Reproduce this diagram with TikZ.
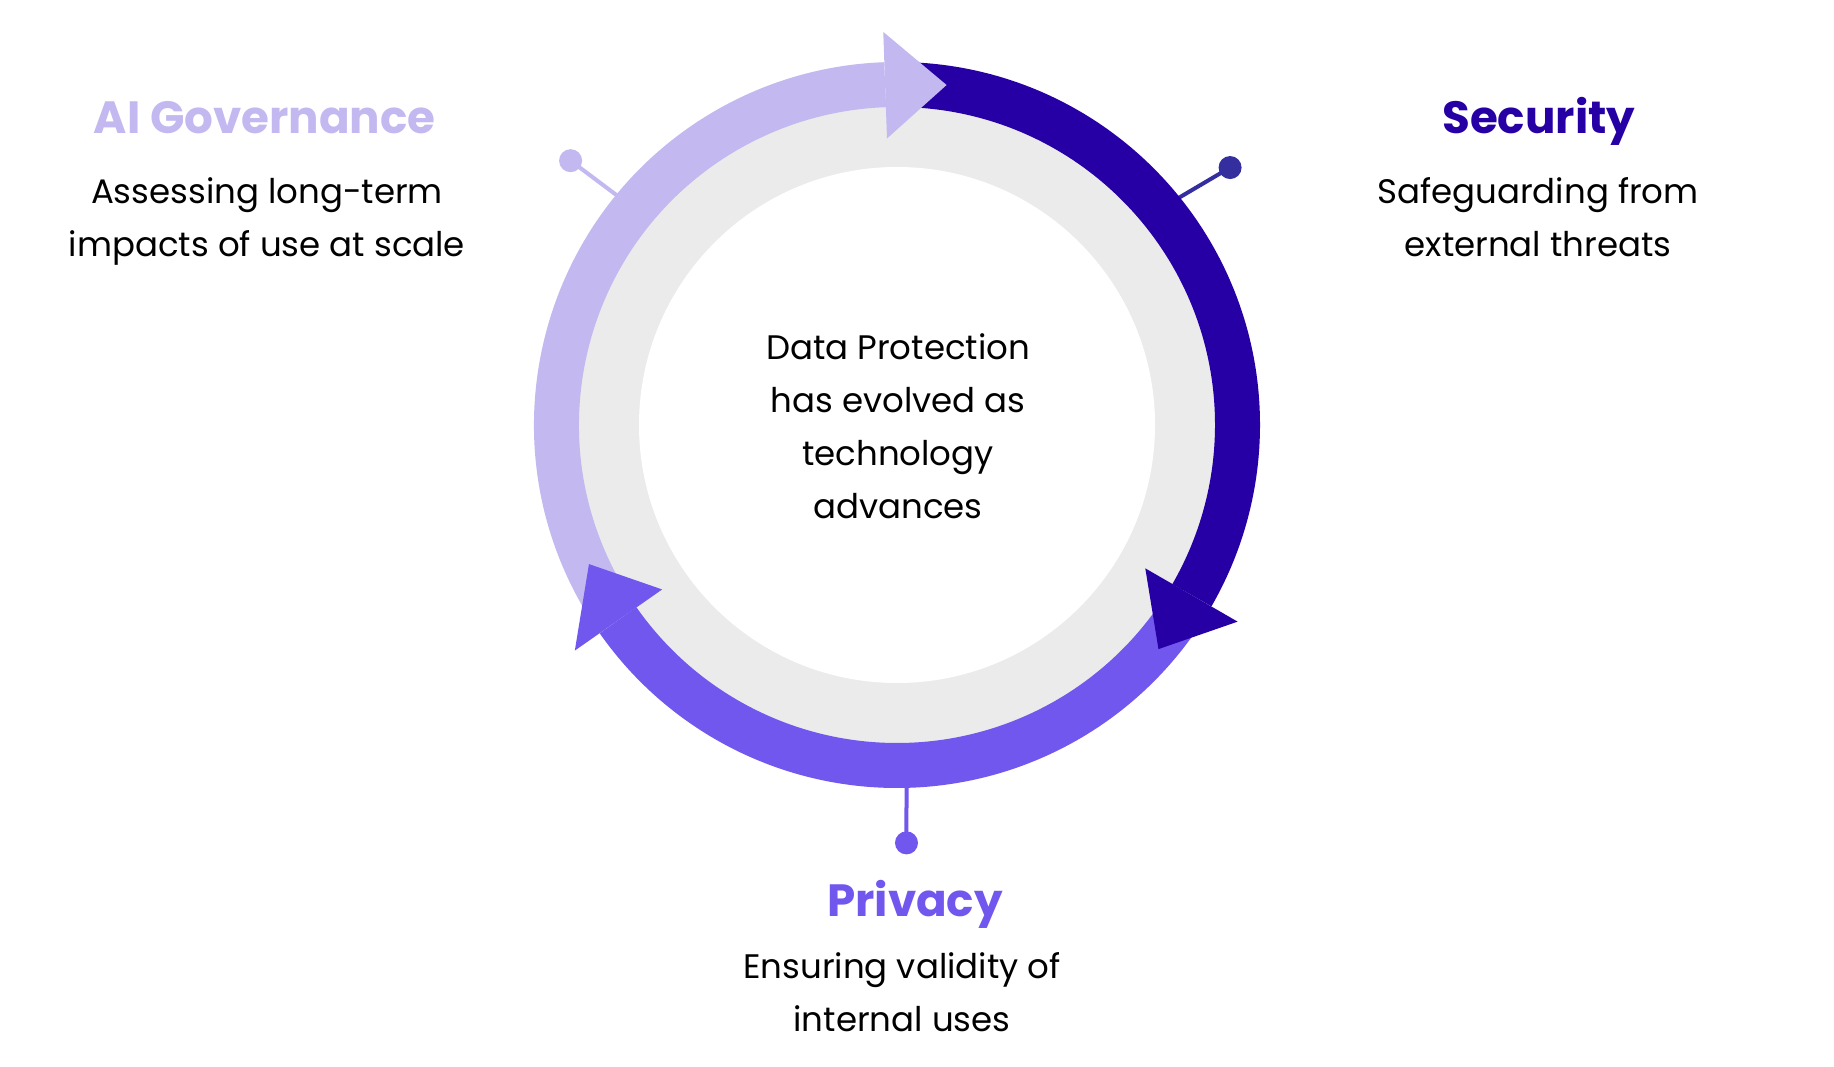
\documentclass[tikz,border=0pt]{standalone}
\usepackage{fontspec}
\setmainfont{Poppins}
\usepackage{color}
\usetikzlibrary{math}
\definecolor{govcol}{RGB}{195,184,240}
\definecolor{seccol}{RGB}{38,0,165}
\definecolor{secdot}{RGB}{53,46,159}
\definecolor{privcol}{RGB}{114,87,238}
\definecolor{ringgray}{RGB}{235,235,235}
\tikzset{
  headtext/.style={font=\fontsize{45.2}{50}\selectfont\bfseries, anchor=base},
  bodytext/.style={font=\fontsize{34}{53}\selectfont, align=center, anchor=base},
  band/.style={line width=45pt},
}

\begin{document}
\begin{tikzpicture}[x=1pt,y=1pt]
      \tikzmath{\cx = 897; \cy = 641; \r = 340.5; \rin = 286.7; \rout = 393.3; \rdot = 420;}
      \useasboundingbox (0,0) rectangle (1834,1066);
      \fill[white] (0,0) rectangle (1834,1066);
      \coordinate (C) at (\cx,\cy);
      \begin{scope}[shift={(C)}]
      % gray disc
      \fill[ringgray] (0,0) circle (330);
      \fill[white] (0,0) circle (258);
      % pins
      \coordinate (govpin) at (141:\rdot);
      \coordinate (secpin) at (37.7:421);
      \coordinate (privpin) at (-88.7:418);
      \draw[govcol, line width=4pt] (govpin) -- (140.5:\r);
      \draw[secdot, line width=4pt] (secpin) -- (39.4:\r);
      \draw[privcol, line width=4pt] (privpin) -- (-88.4:\r);
      \fill[govcol] (govpin) circle (11.5);
      \fill[secdot] (secpin) circle (11.5);
      \fill[privcol] (privpin) circle (11.5);
      % arcs
      \draw[band, govcol] (211:\r) arc[start angle=211, end angle=92, radius=\r];
      \draw[band, seccol] (88:\r) arc[start angle=88, end angle=-30, radius=\r];
      \draw[band, privcol] (-34:\r) arc[start angle=-34, end angle=-145, radius=\r];
      % heads
      \fill[govcol] (92:\rout) -- (81.7:343.6) -- (92:\rin) -- cycle;
      \fill[seccol] (-30:\rin) -- (-40.6:344.4) -- (-30:\rout) -- cycle;
      \fill[privcol] (215:\rin) -- (204.3:338) -- (215:\rout) -- cycle;
      \end{scope}
      % texts (base = last line)
      \node[bodytext] (core) at (898,547) {Data Protection\\has evolved as\\technology\\advances};
      \node[headtext, govcol] (govtitle) at (264.7,932) {AI Governance};
      \node[bodytext] (govtext) at (267,809) {Assessing long-term\\impacts of use at scale};
      \node[headtext, seccol] (sectitle) at (1538.8,932.7) {Security};
      \node[bodytext] (sectext) at (1538,809) {Safeguarding from\\external threats};
      \node[headtext, privcol] (privtitle) at (915,149.3) {Privacy};
      \node[bodytext] (privtext) at (902,34.5) {Ensuring validity of\\internal uses};
\end{tikzpicture}
\end{document}
